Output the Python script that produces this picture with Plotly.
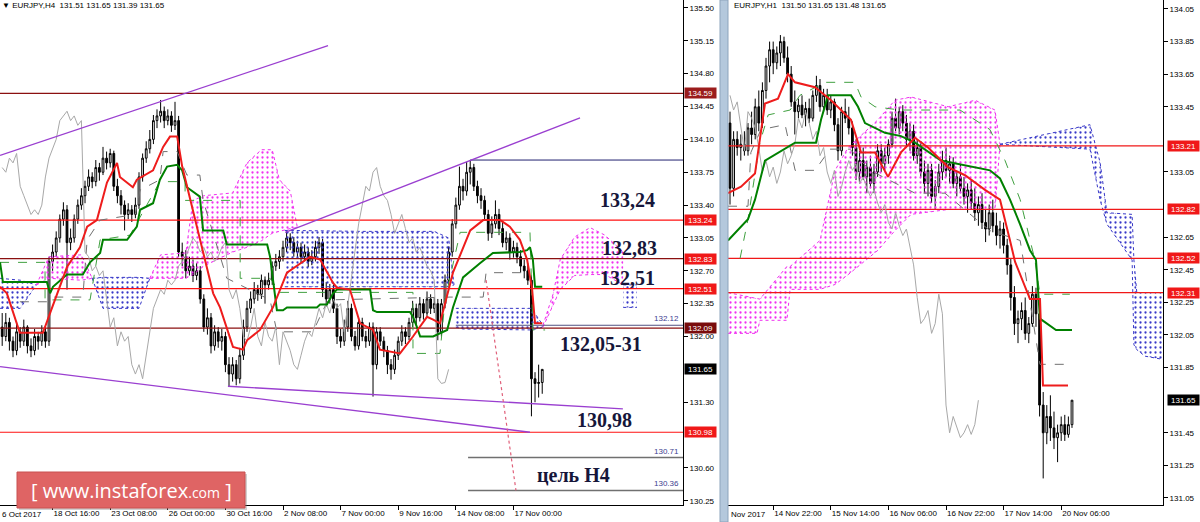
import plotly.graph_objects as go

# ================= H4 panel (left) data =================
h4_open = [132.10, 132.00, 132.15, 131.95, 131.85, 132.05, 131.95, 132.10, 131.90, 131.85,
           132.00, 131.95, 132.05, 131.95, 132.80, 132.90, 133.05, 133.25, 133.35, 133.00,
           133.05, 133.25, 133.40, 133.50, 133.60, 133.70, 133.65, 133.80, 133.75, 133.90,
           133.85, 133.95, 133.60, 133.50, 133.40, 133.30, 133.35, 133.30, 133.40, 133.70,
           133.90, 134.00, 134.10, 134.30, 134.35, 134.40, 134.30, 134.35, 134.25, 134.30,
           132.90, 132.85, 132.70, 132.75, 132.65, 132.70, 132.40, 132.10, 132.20, 131.90,
           132.05, 131.95, 132.00, 131.70, 131.60, 131.70, 131.55, 131.80, 132.10, 132.30,
           132.40, 132.50, 132.45, 132.60, 132.55, 132.60, 132.75, 132.80, 132.85, 132.95,
           133.05, 133.00, 132.90, 132.95, 132.85, 132.90, 132.80, 132.85, 132.95, 133.00,
           132.50, 132.40, 132.50, 132.30, 132.00, 131.95, 132.10, 132.30, 132.00, 131.90,
           132.15, 132.00, 131.95, 132.10, 131.70, 132.05, 131.95, 131.85, 131.70, 131.65,
           131.80, 131.95, 132.05, 132.00, 132.15, 132.30, 132.20, 132.35, 132.25, 132.40,
           132.30, 132.35, 132.05, 132.35, 132.60, 132.90, 133.20, 133.40, 133.60, 133.55,
           133.75, 133.80, 133.60, 133.50, 133.45, 133.30, 133.10, 133.20, 133.30, 133.15,
           133.00, 133.05, 132.90, 132.95, 132.85, 132.75, 132.70, 132.60, 131.55, 131.50,
           131.51]
h4_high = [132.25, 132.25, 132.20, 132.00, 132.15, 132.10, 132.18, 132.12, 131.98, 132.08,
           132.05, 132.12, 132.10, 132.85, 132.98, 133.12, 133.30, 133.43, 133.40, 133.15,
           133.30, 133.46, 133.58, 133.66, 133.78, 133.75, 133.88, 133.85, 134.02, 133.97,
           134.00, 133.98, 133.68, 133.56, 133.45, 133.42, 133.40, 133.48, 133.75, 133.95,
           134.08, 134.20, 134.36, 134.42, 134.52, 134.45, 134.42, 134.40, 134.50, 134.35,
           133.00, 132.92, 132.85, 132.82, 132.78, 132.75, 132.45, 132.30, 132.25, 132.12,
           132.10, 132.08, 132.05, 131.78, 131.78, 131.75, 131.88, 132.18, 132.38, 132.48,
           132.58, 132.55, 132.66, 132.64, 132.68, 132.80, 132.88, 132.92, 133.02, 133.13,
           133.10, 133.06, 133.02, 133.00, 132.98, 132.95, 132.92, 133.02, 133.06, 133.04,
           132.58, 132.56, 132.55, 132.35, 132.08, 132.18, 132.38, 132.35, 132.06, 132.20,
           132.20, 132.06, 132.15, 132.15, 132.10, 132.10, 132.00, 131.90, 131.76, 131.86,
           132.00, 132.12, 132.10, 132.20, 132.38, 132.35, 132.42, 132.40, 132.48, 132.45,
           132.42, 132.40, 132.40, 132.66, 132.96, 133.25, 133.48, 133.81, 133.68, 133.86,
           133.88, 133.84, 133.66, 133.58, 133.50, 133.35, 133.28, 133.45, 133.36, 133.22,
           133.12, 133.10, 133.02, 133.00, 132.92, 132.82, 132.78, 132.65, 131.62, 131.70,
           131.65]
h4_low = [131.90, 131.95, 131.85, 131.78, 131.80, 131.88, 131.90, 131.82, 131.78, 131.80,
          131.86, 131.90, 131.88, 131.90, 132.70, 132.85, 133.00, 133.18, 132.50, 132.92,
          133.00, 133.20, 133.35, 133.42, 133.55, 133.58, 133.60, 133.66, 133.72, 133.78,
          133.80, 133.55, 133.42, 133.30, 133.13, 133.25, 133.22, 133.26, 133.36, 133.65,
          133.85, 133.95, 134.05, 134.22, 134.28, 134.22, 134.25, 134.18, 134.20, 132.85,
          132.75, 132.62, 132.65, 132.58, 132.60, 132.35, 132.05, 132.02, 131.82, 131.85,
          131.88, 131.85, 131.62, 131.47, 131.52, 131.48, 131.50, 131.75, 132.05, 132.25,
          132.35, 132.38, 132.40, 132.35, 132.50, 132.55, 132.70, 132.72, 132.80, 132.90,
          132.92, 132.85, 132.84, 132.78, 132.80, 132.74, 132.76, 132.80, 132.88, 132.42,
          132.32, 132.35, 132.25, 131.92, 131.88, 131.90, 132.05, 131.95, 131.85, 131.86,
          131.95, 131.88, 131.90, 131.36, 131.65, 131.90, 131.78, 131.60, 131.54, 131.60,
          131.75, 131.90, 131.92, 131.96, 132.10, 132.12, 132.16, 132.18, 132.22, 132.24,
          132.25, 131.96, 132.00, 132.30, 132.55, 132.85, 133.15, 133.35, 133.45, 133.50,
          133.62, 133.55, 133.42, 133.36, 133.25, 133.02, 133.05, 133.15, 133.08, 132.95,
          132.92, 132.82, 132.84, 132.78, 132.68, 132.62, 132.55, 131.15, 131.30, 131.35,
          131.39]
h4_close = [132.00, 132.15, 131.95, 131.85, 132.05, 131.95, 132.10, 131.90, 131.85, 132.00,
            131.95, 132.05, 131.95, 132.80, 132.90, 133.05, 133.25, 133.35, 133.00, 133.05,
            133.25, 133.40, 133.50, 133.60, 133.70, 133.65, 133.80, 133.75, 133.90, 133.85,
            133.95, 133.60, 133.50, 133.40, 133.30, 133.35, 133.30, 133.40, 133.70, 133.90,
            134.00, 134.10, 134.30, 134.35, 134.40, 134.30, 134.35, 134.25, 134.30, 132.90,
            132.85, 132.70, 132.75, 132.65, 132.70, 132.40, 132.10, 132.20, 131.90, 132.05,
            131.95, 132.00, 131.70, 131.60, 131.70, 131.55, 131.80, 132.10, 132.30, 132.40,
            132.50, 132.45, 132.60, 132.55, 132.60, 132.75, 132.80, 132.85, 132.95, 133.05,
            133.00, 132.90, 132.95, 132.85, 132.90, 132.80, 132.85, 132.95, 133.00, 132.50,
            132.40, 132.50, 132.30, 132.00, 131.95, 132.10, 132.30, 132.00, 131.90, 132.15,
            132.00, 131.95, 132.10, 131.70, 132.05, 131.95, 131.85, 131.70, 131.65, 131.80,
            131.95, 132.05, 132.00, 132.15, 132.30, 132.20, 132.35, 132.25, 132.40, 132.30,
            132.35, 132.05, 132.35, 132.60, 132.90, 133.20, 133.40, 133.60, 133.55, 133.75,
            133.80, 133.60, 133.50, 133.45, 133.30, 133.10, 133.20, 133.30, 133.15, 133.00,
            133.05, 132.90, 132.95, 132.85, 132.75, 132.70, 132.60, 131.55, 131.50, 131.51,
            131.65]

h4_tick_idx = [14, 30, 46, 62, 78, 94, 110, 126, 142]
h4_tick_text = ["18 Oct 16:00", "23 Oct 08:00", "26 Oct 00:00", "30 Oct 16:00", "2 Nov 08:00",
                "7 Nov 00:00", "9 Nov 16:00", "14 Nov 08:00", "17 Nov 00:00"]
# price ticks (those fully hidden behind a price box in the reference are left out)
h4_ytick = [130.25, 130.60, 131.30, 132.00, 132.35, 132.70, 133.05, 133.40,
            133.75, 134.10, 134.45, 134.80, 135.15, 135.50]

h4_tenkan_x = [-0.6, 1.3, 4.9, 11.3, 13.3, 18, 21.6, 23.6, 26.3, 29.1, 31.9, 32.7, 36.3, 37.4, 41.9,
               44.7, 46.6, 48.6, 50, 55.8, 58.6, 60.5, 64.1, 66.9, 68, 71.6, 75.2, 79.1, 82.7, 85.5,
               88.3, 91.9, 93, 96.6, 99.4, 103, 104.9, 110.5, 114.1, 118, 119.7, 121.6, 125.2, 130,
               133.6, 138.3, 141, 143.8, 145.8, 147.2, 148, 150]
h4_tenkan_y = [132.53, 132.46, 132.04, 132.04, 132.25, 132.74, 132.95, 133.17, 133.24, 133.64, 133.85,
               133.70, 133.59, 133.67, 133.77, 134.02, 134.13, 134.13, 133.81, 132.89, 132.46, 132.31,
               131.89, 131.86, 131.96, 132.07, 132.31, 132.68, 132.78, 132.85, 132.82, 132.57, 132.52,
               132.50, 132.14, 132.07, 131.86, 131.82, 132.00, 132.21, 132.18, 132.14, 132.68, 133.13,
               133.24, 133.24, 133.17, 133.03, 132.82, 132.50, 132.14, 132.14]
h4_kijun_x = [-0.6, 0.2, 12.4, 13.3, 14.1, 18, 22.4, 24.4, 27.2, 28, 34.7, 37.4, 38.3, 41.9, 43.8,
              45.8, 48.6, 50, 51.3, 54.9, 55.8, 61.4, 62.4, 73.6, 74.4, 75.8, 76.3, 78, 79.1, 87.4,
              88.3, 90.2, 91.9, 93, 102.2, 103, 104.1, 113.3, 114.1, 115.2, 116.1, 119.7, 123.6,
              125.2, 128, 132.7, 136.3, 143.8, 145.8, 146.6, 147.4, 148, 150]
h4_kijun_y = [132.79, 132.58, 132.58, 132.46, 132.53, 132.66, 132.66, 132.79, 132.89, 133.03, 133.03,
              133.17, 133.35, 133.42, 133.67, 133.81, 133.83, 133.77, 133.59, 133.49, 133.13, 133.13,
              132.98, 132.98, 132.85, 132.42, 132.28, 132.28, 132.31, 132.31, 132.34, 132.34, 132.46,
              132.50, 132.50, 132.28, 132.26, 132.26, 132.21, 132.10, 132.00, 132.00, 132.07, 132.31,
              132.63, 132.78, 132.89, 132.90, 132.92, 132.95, 132.82, 132.53, 132.53]
h4_gdash_x = [-0.6, 11.9, 11.9, 24.4, 27.2, 35.5, 43.8, 50.8, 50.8, 66.1, 66.1, 74.4, 77.2, 86.9,
              114.1, 114.1, 121.6, 123, 127.2, 146.6, 147.4, 150.8]
h4_gdash_y = [132.79, 132.79, 132.39, 132.39, 133.03, 133.08, 133.65, 133.65, 133.45, 133.45, 132.62,
              132.62, 132.47, 132.47, 132.47, 131.82, 131.82, 132.39, 133.11, 133.11, 132.07, 132.07]
h4_kdash_x = [4.9, 12.4, 14.1, 22.4, 23.6, 27.2, 36.9, 38.3, 43.8, 44.7, 48.6, 51.3, 54.9, 55.8, 62.4,
              74.4, 76.3, 86.3, 90.5, 124.4, 133.6, 134.4, 146.6]
h4_kdash_y = [132.37, 132.37, 132.42, 132.42, 133.03, 133.24, 133.30, 133.56, 133.67, 133.97, 133.97,
              133.72, 133.72, 133.45, 132.62, 132.39, 132.05, 132.05, 132.39, 132.42, 132.42, 132.68, 132.68]

h4_cloud_x = [[-0.6, 5, 9.5], [9.5, 13, 22, 25], [25, 28, 38, 41],
              [41, 44, 51, 53, 56, 64, 68, 72, 75, 77, 80, 82],
              [78.5, 80, 100, 120, 124, 125.5], [126, 128, 147, 150.2],
              [150.2, 153, 155, 159, 163.3, 167.4, 170.2, 172.5], [172.5, 176.3]]
h4_cloud_top = [[132.62, 132.60, 132.55], [132.55, 132.85, 132.87, 132.62], [132.62, 132.63, 132.63, 132.62],
                [132.62, 132.87, 132.89, 133.45, 133.50, 133.53, 133.85, 133.99, 133.99, 133.67, 133.55, 133.16],
                [133.13, 133.13, 133.12, 133.12, 133.05, 132.55], [132.30, 132.30, 132.30, 132.12],
                [132.12, 132.45, 132.82, 133.06, 133.16, 133.08, 132.98, 132.90], [132.55, 132.55]]
h4_cloud_bot = [[132.30, 132.30, 132.55], [132.55, 132.62, 132.60, 132.62], [132.62, 132.30, 132.30, 132.62],
                [132.62, 132.62, 132.62, 132.66, 132.75, 132.90, 132.95, 133.02, 133.10, 133.12, 133.15, 133.16],
                [132.53, 132.53, 132.53, 132.53, 132.53, 132.55], [132.10, 132.08, 132.07, 132.10],
                [132.10, 132.34, 132.50, 132.65, 132.66, 132.66, 132.60, 132.55], [132.31, 132.31]]
h4_cloud_kind = ["blue", "pink", "blue", "pink", "blue", "blue", "pink", "blue"]

h4_levels = [134.59, 133.24, 132.83, 132.51, 132.09, 130.98]
h4_level_line = ["#8b1010", "#ff1010", "#8b1010", "#ff1010", "#8b1010", "#ff1010"]
h4_level_box = ["#9b1c1c", "#f01818", "#f01818", "#f01818", "#7a0c0c", "#f01818"]
h4_short_levels = [133.88, 132.12, 130.71, 130.36]
h4_short_start = [130, 126, 129.4, 129.4]
h4_short_color = ["#202070", "#505080", "#707070", "#707070"]
h4_short_label = ["", "132.12", "130.71", "130.36"]

h4_trend_x = [[-0.6, 90.5], [78.6, 160.5], [62.7, 172.4], [-0.6, 146.6]]
h4_trend_y = [[133.93, 135.10], [133.11, 134.33], [131.47, 131.23], [131.68, 130.98]]
h4_target_x = [134.4, 142.7]
h4_target_y = [132.60, 130.36]

h4_notes = ["133,24", "132,83", "132,51", "132,05-31", "130,98", "цель H4"]
h4_note_x = [173.8, 174.1, 173.6, 166.3, 167.2, 158.8]
h4_note_y = [133.45, 132.94, 132.62, 131.92, 131.11, 130.52]

# ================= H1 panel (right) data =================
h1_open = [133.35, 132.95, 133.25, 133.20, 133.22, 133.18, 133.32, 133.28, 133.45, 133.35,
           133.55, 133.70, 133.80, 133.72, 133.78, 133.85, 133.75, 133.65, 133.48, 133.42,
           133.46, 133.40, 133.44, 133.38, 133.52, 133.58, 133.45, 133.52, 133.43, 133.48,
           133.34, 133.18, 133.42, 133.38, 133.32, 133.20, 133.05, 133.12, 133.02, 133.08,
           132.98, 133.05, 133.18, 133.10, 133.15, 133.22, 133.38, 133.32, 133.42, 133.35,
           133.25, 133.30, 133.15, 133.20, 133.05, 132.98, 133.06, 132.90, 132.96, 133.05,
           133.12, 133.06, 133.10, 132.98, 133.02, 132.95, 132.90, 132.94, 132.86, 132.80,
           132.85, 132.74, 132.70, 132.80, 132.72, 132.66, 132.70, 132.60, 132.48, 132.28,
           132.12, 132.15, 132.20, 132.06, 132.12, 132.30, 132.18, 131.62, 131.45, 131.55,
           131.48, 131.42, 131.45, 131.50, 131.44, 131.50]
h1_high = [133.42, 133.30, 133.30, 133.28, 133.30, 133.35, 133.42, 133.50, 133.55, 133.60,
           133.75, 133.85, 133.85, 133.82, 133.89, 133.88, 133.82, 133.70, 133.55, 133.50,
           133.52, 133.48, 133.50, 133.55, 133.64, 133.62, 133.56, 133.56, 133.52, 133.50,
           133.38, 133.45, 133.50, 133.45, 133.36, 133.25, 133.18, 133.20, 133.12, 133.15,
           133.10, 133.22, 133.22, 133.20, 133.25, 133.42, 133.50, 133.45, 133.46, 133.40,
           133.35, 133.34, 133.25, 133.24, 133.12, 133.10, 133.10, 133.00, 133.10, 133.18,
           133.20, 133.15, 133.14, 133.05, 133.10, 133.02, 132.98, 133.00, 132.95, 132.90,
           132.92, 132.82, 132.85, 132.88, 132.80, 132.75, 132.74, 132.64, 132.52, 132.35,
           132.20, 132.25, 132.28, 132.16, 132.35, 132.34, 132.20, 131.70, 131.62, 131.68,
           131.58, 131.50, 131.55, 131.56, 131.55, 131.65]
h1_low = [132.85, 132.90, 133.15, 133.12, 133.15, 133.15, 133.22, 133.25, 133.30, 133.32,
          133.50, 133.60, 133.65, 133.68, 133.70, 133.72, 133.60, 133.45, 133.28, 133.38,
          133.38, 133.33, 133.35, 133.36, 133.48, 133.42, 133.42, 133.40, 133.38, 133.30,
          133.12, 133.15, 133.35, 133.28, 133.15, 133.00, 132.98, 133.00, 132.92, 132.95,
          132.92, 133.02, 133.05, 133.06, 133.10, 133.20, 133.30, 133.28, 133.30, 133.20,
          133.18, 133.12, 133.10, 133.02, 132.92, 132.90, 132.86, 132.82, 132.92, 133.00,
          133.02, 132.98, 132.95, 132.90, 132.92, 132.85, 132.80, 132.82, 132.75, 132.72,
          132.70, 132.62, 132.66, 132.68, 132.60, 132.58, 132.55, 132.42, 132.20, 132.05,
          132.00, 132.08, 132.02, 132.00, 132.10, 132.10, 131.55, 131.17, 131.38, 131.40,
          131.35, 131.27, 131.40, 131.40, 131.42, 131.48]
h1_close = [132.95, 133.25, 133.20, 133.22, 133.18, 133.32, 133.28, 133.45, 133.35, 133.55,
            133.70, 133.80, 133.72, 133.78, 133.85, 133.75, 133.65, 133.48, 133.42, 133.46,
            133.40, 133.44, 133.38, 133.52, 133.58, 133.45, 133.52, 133.43, 133.48, 133.34,
            133.18, 133.42, 133.38, 133.32, 133.20, 133.05, 133.12, 133.02, 133.08, 132.98,
            133.05, 133.18, 133.10, 133.15, 133.22, 133.38, 133.32, 133.42, 133.35, 133.25,
            133.30, 133.15, 133.20, 133.05, 132.98, 133.06, 132.90, 132.96, 133.05, 133.12,
            133.06, 133.10, 132.98, 133.02, 132.95, 132.90, 132.94, 132.86, 132.80, 132.85,
            132.74, 132.70, 132.80, 132.72, 132.66, 132.70, 132.60, 132.48, 132.28, 132.12,
            132.15, 132.20, 132.06, 132.12, 132.30, 132.18, 131.62, 131.45, 131.55, 131.48,
            131.42, 131.45, 131.50, 131.44, 131.50, 131.65]

h1_tick_idx = [12, 28, 44, 60, 76, 92]
h1_tick_text = ["14 Nov 22:00", "15 Nov 14:00", "16 Nov 06:00", "16 Nov 22:00", "17 Nov 14:00", "20 Nov 06:00"]
h1_ytick = [131.05, 131.25, 131.45, 131.85, 132.05, 132.25, 132.45, 132.65,
            133.05, 133.45, 133.65, 133.85, 134.05]

h1_tenkan_x = [-0.56, 3.06, 6.94, 8.61, 9.72, 13.33, 16.11, 18.06, 23.61, 28.06, 33.61, 36.39, 40.28,
               43.89, 47.5, 51.39, 55.0, 60.56, 65.28, 70.83, 75.0, 77.78, 79.17, 83.33, 86.11, 86.94, 93.89]
h1_tenkan_y = [132.92, 132.96, 133.04, 133.31, 133.47, 133.50, 133.65, 133.60, 133.57, 133.49, 133.37,
               133.17, 133.17, 133.02, 133.17, 133.26, 133.20, 133.08, 133.03, 132.94, 132.88, 132.63,
               132.50, 132.27, 132.27, 131.74, 131.74]
h1_kijun_x = [-0.56, 5, 6.94, 9.72, 18.06, 23.89, 25.28, 27.22, 33.61, 35.56, 37.5, 43.06, 47.5, 51.39,
              58.61, 72.22, 75, 77.78, 80.56, 83.33, 85, 86.11, 90.56, 95]
h1_kijun_y = [132.63, 132.76, 132.88, 133.12, 133.23, 133.23, 133.37, 133.52, 133.52, 133.45, 133.35,
              133.29, 133.27, 133.23, 133.12, 133.06, 133.01, 132.88, 132.73, 132.57, 132.51, 132.15,
              132.08, 132.08]
h1_gdash_x = [2.8, 5, 8.3, 10.6, 16.7, 19.4, 26.4, 34.7, 36.4, 40.3, 47.2, 63.9, 72.2, 76.4, 80.6,
              84.7, 86.1, 94.4]
h1_gdash_y = [132.52, 132.76, 133.23, 133.40, 133.43, 133.52, 133.60, 133.60, 133.51, 133.45, 133.43,
              133.43, 133.31, 133.12, 132.88, 132.51, 132.30, 132.30]
h1_kdash_x = [-0.56, 5, 5.8, 8.6, 15.3, 18.1, 23.6, 27.8, 33.3, 38.9, 51.4, 59.7, 72.2, 80.6, 86.1, 94.4]
h1_kdash_y = [132.84, 132.84, 133.17, 133.31, 133.34, 133.06, 133.06, 133.19, 133.19, 133.06, 132.92,
              132.92, 132.69, 132.63, 131.87, 131.87]

h1_cloud_x = [[-0.56, 7.5, 8.3, 15.8, 16.7, 25, 29.2, 32.8, 41.1, 45.8, 50.3, 60.6, 68.1, 73.6, 75],
              [75, 100, 102.8, 104.7, 111.7, 112.2, 113, 115.3, 120.3]]
h1_cloud_top = [[132.31, 132.27, 132.27, 132.47, 132.47, 132.63, 133.06, 133.20, 133.37, 133.49, 133.51,
                 133.45, 133.49, 133.43, 133.22],
                [133.22, 133.34, 133.11, 132.80, 132.79, 132.51, 132.31, 132.31, 132.31]]
h1_cloud_bot = [[132.06, 132.06, 132.14, 132.14, 132.33, 132.33, 132.36, 132.42, 132.57, 132.69, 132.79,
                 132.82, 132.82, 132.82, 133.22],
                [133.22, 133.19, 132.88, 132.73, 132.51, 131.99, 131.96, 131.92, 131.90]]
h1_cloud_kind = ["pink", "blue"]

h1_levels = [133.21, 132.82, 132.52, 132.31]

# ================= figure =================
FONT = "Liberation Sans"
CLOUD = {"pink": "#f030f0", "blue": "#3838c8"}
X1 = [-0.61, 189.1]
X2 = [-0.556, 120.28]

fig = go.Figure()


def add_line(x, y, color, width, dash="solid", xa="x", ya="y"):
    fig.add_trace(go.Scatter(x=x, y=y, mode="lines", xaxis=xa, yaxis=ya, hoverinfo="skip",
                             line=dict(color=color, width=width, dash=dash)))


def add_cloud(xs, top, bot, kind, xa, ya):
    c = CLOUD[kind]
    fig.add_trace(go.Scatter(x=xs, y=bot, mode="lines", xaxis=xa, yaxis=ya, hoverinfo="skip",
                             line=dict(color=c, width=1, dash="dot")))
    fig.add_trace(go.Scatter(x=xs, y=top, mode="lines", xaxis=xa, yaxis=ya, hoverinfo="skip",
                             line=dict(color=c, width=1, dash="dot"), fill="tonexty",
                             fillcolor="rgba(0,0,0,0)",
                             fillpattern=dict(shape=".", fgcolor=c, size=5, solidity=0.16,
                                              fillmode="replace")))


# ---- left panel ----
for xs, tp, bt, kd in zip(h4_cloud_x, h4_cloud_top, h4_cloud_bot, h4_cloud_kind):
    add_cloud(xs, tp, bt, kd, "x", "y")
for lv, col in zip(h4_levels, h4_level_line):
    add_line(X1, [lv, lv], col, 1.2)
for lv, st, col in zip(h4_short_levels, h4_short_start, h4_short_color):
    add_line([st, X1[1]], [lv, lv], col, 1.5 if lv < 131 else 1)
add_line(h4_gdash_x, h4_gdash_y, "#40a040", 1, "dash")
add_line(h4_kdash_x, h4_kdash_y, "#707070", 1, "dash")
add_line([i - 26 for i in range(26, len(h4_close))], h4_close[26:], "#a8a8a8", 1)
fig.add_trace(go.Candlestick(x=list(range(len(h4_close))), open=h4_open, high=h4_high, low=h4_low,
                             close=h4_close, xaxis="x", yaxis="y", whiskerwidth=0,
                             increasing=dict(line=dict(color="black", width=1), fillcolor="white"),
                             decreasing=dict(line=dict(color="black", width=1), fillcolor="black")))
add_line(h4_kijun_x, h4_kijun_y, "#008000", 2)
add_line(h4_tenkan_x, h4_tenkan_y, "#ee1c1c", 2)
for tx, ty in zip(h4_trend_x, h4_trend_y):
    add_line(tx, ty, "#9a3fd0", 1.3)
add_line(h4_target_x, h4_target_y, "#e0607a", 1.2, "dot")

# ---- right panel ----
for xs, tp, bt, kd in zip(h1_cloud_x, h1_cloud_top, h1_cloud_bot, h1_cloud_kind):
    add_cloud(xs, tp, bt, kd, "x2", "y2")
for lv in h1_levels:
    add_line(X2, [lv, lv], "#f01818", 1.2, xa="x2", ya="y2")
add_line(h1_gdash_x, h1_gdash_y, "#40a040", 1, "dash", "x2", "y2")
add_line(h1_kdash_x, h1_kdash_y, "#707070", 1, "dash", "x2", "y2")
add_line([j - 26 for j in range(26, len(h1_close))], h1_close[26:], "#a8a8a8", 1, xa="x2", ya="y2")
fig.add_trace(go.Candlestick(x=list(range(len(h1_close))), open=h1_open, high=h1_high, low=h1_low,
                             close=h1_close, xaxis="x2", yaxis="y2", whiskerwidth=0,
                             increasing=dict(line=dict(color="black", width=1), fillcolor="white"),
                             decreasing=dict(line=dict(color="black", width=1), fillcolor="black")))
add_line(h1_kijun_x, h1_kijun_y, "#008000", 2, xa="x2", ya="y2")
add_line(h1_tenkan_x, h1_tenkan_y, "#ee1c1c", 2, xa="x2", ya="y2")

# ---- annotations ----
ann = []
tf = dict(family=FONT, size=8, color="black")
ann.append(dict(text="▼ EURJPY,H4  131.51 131.65 131.39 131.65", x=0.0, y=1 - 6 / 522, xref="paper",
                yref="paper", showarrow=False, xanchor="left", yanchor="middle", font=tf))
for lv, bc in zip(h4_levels + [131.65], h4_level_box + ["#000000"]):
    ann.append(dict(text="%.2f" % lv, x=701 / 1200, xref="paper", y=lv, yref="y", showarrow=False,
                    xanchor="center", bgcolor=bc, font=dict(family=FONT, size=8, color="white"),
                    width=31, height=10, borderpad=0))
for lv, lab in zip(h4_short_levels, h4_short_label):
    if lab:
        ann.append(dict(text=lab, x=681 / 1200, xref="paper", y=lv, yref="y", showarrow=False,
                        xanchor="right", yanchor="bottom", font=dict(family=FONT, size=8, color="#404090")))
for t, nx, ny in zip(h4_notes, h4_note_x, h4_note_y):
    ann.append(dict(text="<b>%s</b>" % t, x=nx, y=ny, xref="x", yref="y", showarrow=False,
                    xanchor="center", font=dict(family="Liberation Serif", size=20, color="#16163a")))
for lv in h1_levels + [131.65]:
    ann.append(dict(text="%.2f" % lv, x=1183 / 1200, xref="paper", y=lv, yref="y2", showarrow=False,
                    xanchor="center", bgcolor="#000000" if lv == 131.65 else "#f01818",
                    font=dict(family=FONT, size=8, color="white"), width=31, height=10, borderpad=0))
ann.append(dict(text="EURJPY,H1  131.50 131.65 131.48 131.65", x=732 / 1200, y=1 - 6 / 522, xref="paper",
                yref="paper", showarrow=False, xanchor="left", yanchor="middle", font=tf))
ann.append(dict(text="6 Oct 2017", x=0.0, y=1 - 514 / 522, xref="paper", yref="paper", showarrow=False,
                xanchor="left", yanchor="middle", font=tf))
ann.append(dict(text="Nov 2017", x=729 / 1200, y=1 - 514 / 522, xref="paper", yref="paper", showarrow=False,
                xanchor="left", yanchor="middle", font=tf))
ann.append(dict(text="[ www.instaforex<span style='font-size:14px'>.com</span> ]", x=131 / 1200,
                y=1 - 490 / 522, xref="paper", yref="paper", showarrow=False, xanchor="center",
                yanchor="middle", font=dict(family="Open Sans", size=20, color="white")))

shapes = [
    dict(type="rect", xref="paper", yref="paper", x0=720 / 1200, x1=728 / 1200, y0=0, y1=1,
         fillcolor="#b4c8dc", line=dict(color="#8da4bc", width=1), layer="above"),
    dict(type="rect", xref="paper", yref="paper", x0=19 / 1200, x1=247 / 1200, y0=1 - 510 / 522,
         y1=1 - 474 / 522, fillcolor="rgba(120,120,120,0.35)", line=dict(width=0), layer="above"),
    dict(type="rect", xref="paper", yref="paper", x0=17 / 1200, x1=245 / 1200, y0=1 - 508 / 522,
         y1=1 - 472 / 522, fillcolor="#df6464", line=dict(color="#c85050", width=1), layer="above"),
]

axis_common = dict(showgrid=False, zeroline=False, showline=True, linecolor="black", linewidth=1,
                   ticks="outside", ticklen=4, tickcolor="black", tickfont=tf, fixedrange=True)

fig.update_layout(
    width=1200, height=522, margin=dict(l=0, r=0, t=0, b=0),
    paper_bgcolor="white", plot_bgcolor="white", showlegend=False,
    font=dict(family=FONT, size=8, color="black"),
    xaxis=dict(domain=[0, 683 / 1200], range=X1, anchor="y", tickvals=h4_tick_idx, ticktext=h4_tick_text,
               ticklabelposition="outside right", rangeslider=dict(visible=False), **axis_common),
    yaxis=dict(domain=[17 / 522, 1], range=[130.205, 135.585], anchor="x", side="right",
               tickvals=h4_ytick, tickformat=".2f", **axis_common),
    xaxis2=dict(domain=[728 / 1200, 1163 / 1200], range=X2, anchor="y2", tickvals=h1_tick_idx,
                ticktext=h1_tick_text, ticklabelposition="outside right", rangeslider=dict(visible=False),
                **axis_common),
    yaxis2=dict(domain=[17 / 522, 1], range=[131.007, 134.105], anchor="x2", side="right",
                tickvals=h1_ytick, tickformat=".2f", **axis_common),
    annotations=ann, shapes=shapes,
)

fig.write_html("out.html", config={"displayModeBar": False, "staticPlot": True},
               post_script="document.body.style.margin='0px';document.body.style.overflow='hidden';")
